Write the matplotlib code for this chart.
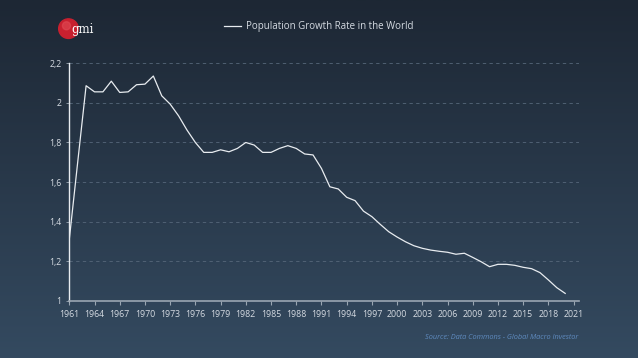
import numpy as np
import matplotlib
matplotlib.use("Agg")
import matplotlib.pyplot as plt
from matplotlib.ticker import FuncFormatter
from matplotlib.patches import Circle

years = list(range(1961, 2021))
growth = [1.31, 1.70, 2.087, 2.056, 2.056, 2.11, 2.053, 2.056, 2.092, 2.095,
          2.136, 2.036, 1.994, 1.935, 1.863, 1.80, 1.75, 1.75, 1.763, 1.753,
          1.77, 1.80, 1.787, 1.75, 1.75, 1.77, 1.784, 1.77, 1.742, 1.737,
          1.669, 1.576, 1.565, 1.523, 1.506, 1.453, 1.425, 1.386, 1.349, 1.322,
          1.298, 1.278, 1.265, 1.256, 1.25, 1.245, 1.235, 1.24, 1.219, 1.197,
          1.172, 1.184, 1.184, 1.179, 1.169, 1.162, 1.142, 1.105, 1.066, 1.037]
xticks = list(range(1961, 2022, 3))
yticks = [1, 1.2, 1.4, 1.6, 1.8, 2, 2.2]

plt.rcParams['font.family'] = ['Open Sans', 'DejaVu Sans']
txt = '#d5dbe2'

fig = plt.figure(figsize=(6.38, 3.58), dpi=100)

# background gradient
bg = fig.add_axes([0, 0, 1, 1], zorder=-10)
top = np.array([0x1d, 0x27, 0x34]) / 255
bot = np.array([0x34, 0x4a, 0x60]) / 255
t = np.linspace(0, 1, 256)[:, None]
grad = top * (1 - t) + bot * t
bg.imshow(grad[:, None, :], aspect='auto', extent=[0, 1, 0, 1])
bg.set_axis_off()

ax = fig.add_axes([0.1086, 0.160, 0.7997, 0.663])
ax.patch.set_alpha(0)
ax.plot(years, growth, color='#e8ecf0', lw=0.9, label='Population Growth Rate in the World')
ax.set_xlim(1961, 2021.7)
ax.set_ylim(1, 2.2)
ax.set_xticks(xticks)
ax.set_yticks(yticks)
ax.yaxis.set_major_formatter(FuncFormatter(lambda v, p: f"{v:g}".replace('.', ',')))
ax.grid(axis='y', color='#56677a', ls=(0, (4, 4)), lw=0.6)
ax.tick_params(axis='x', colors='#9aa6b2', labelcolor=txt, labelsize=6.3, length=3, width=0.8)
ax.tick_params(axis='y', colors='#9aa6b2', labelcolor=txt, labelsize=6.3, length=2, width=0.6)
for s in ['top', 'right']:
    ax.spines[s].set_visible(False)
ax.spines['left'].set_color('#e8ecf0')
ax.spines['bottom'].set_color('#9aa6b2')
ax.spines['left'].set_linewidth(1)
ax.spines['bottom'].set_linewidth(1.2)

fig.legend(loc='center', bbox_to_anchor=(0.500, 0.926), frameon=False,
           fontsize=7, labelcolor=txt, handlelength=1.7, handletextpad=0.6)

fig.text(0.907, 0.058, 'Source: Data Commons - Global Macro Investor', ha='right',
         va='center', fontsize=5.3, style='italic', color='#5f8bbf')

# logo
lg = fig.add_axes([0.087, 0.875, 0.07, 0.09])
lg.set_xlim(0, 1.55)
lg.set_ylim(0, 1)
lg.set_aspect('equal')
lg.set_axis_off()
lg.add_patch(Circle((0.45, 0.5), 0.34, color='#c8202f'))
lg.add_patch(Circle((0.38, 0.6), 0.14, color='#e14a55', alpha=0.6))
lg.text(0.55, 0.47, 'gmi', color='white', fontsize=8.5, family='DejaVu Serif',
        va='center', ha='left')

fig.savefig('out.png', dpi=100)
